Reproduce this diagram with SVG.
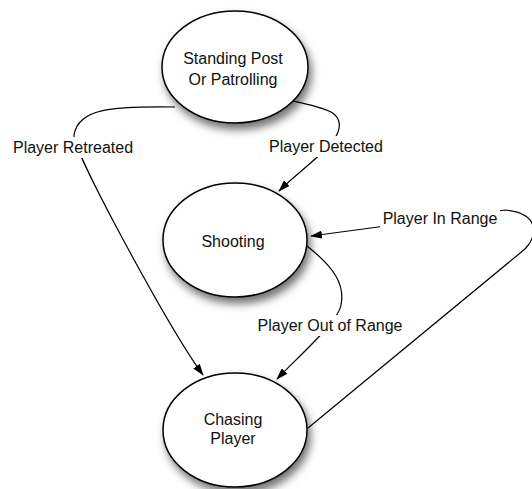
<svg xmlns="http://www.w3.org/2000/svg" width="532" height="489" viewBox="0 0 532 489">
<style>
.node{fill:#fff;stroke:#000;stroke-width:1.5;filter:url(#sh)}
.lbl{font-family:"Liberation Sans",Arial,sans-serif;font-size:16px;fill:#111;text-anchor:middle}
.edge{fill:none;stroke:#000;stroke-width:1.2}
.arr{marker-end:url(#ah)}
.bg{fill:#fff}
</style>
<defs>
<filter id="sh" x="-20%" y="-20%" width="150%" height="150%">
<feDropShadow dx="3" dy="6" stdDeviation="4" flood-color="#000" flood-opacity="0.55"/>
</filter>
<marker id="ah" viewBox="0 0 12 8" refX="11" refY="4" markerWidth="12" markerHeight="8" markerUnits="userSpaceOnUse" orient="auto">
<path d="M0,0 L12,4 L0,8 Z" fill="#000"/>
</marker>
</defs>
<g id="connectors">
<path class="edge arr" d="M175,107 C110,106 78,109 74,135 C72,150 170,330 203,375"/>
<path class="edge arr" d="M293,101 C325,108 345,112 338,132 C333,148 300,170 279,191"/>
<path class="edge arr" d="M308,428 L525,249 C538,236 540,213 505,210 L311,236"/>
<path class="edge arr" d="M307,246 C335,268 345,285 341,305 C338,322 300,355 277,379"/>
</g>
<g id="labels">
<rect class="bg" x="10" y="137" width="126" height="21"/>
<text class="lbl" x="73" y="153">Player Retreated</text>
<rect class="bg" x="266" y="136" width="120" height="21"/>
<text class="lbl" x="326" y="152">Player Detected</text>
<rect class="bg" x="380" y="208" width="120" height="21"/>
<text class="lbl" x="440" y="224">Player In Range</text>
<rect class="bg" x="254" y="315" width="152" height="21"/>
<text class="lbl" x="330" y="331">Player Out of Range</text>
</g>
<g id="node-standing">
<ellipse class="node" cx="235" cy="67" rx="73" ry="56"/>
<text class="lbl" x="233" y="64">Standing Post</text>
<text class="lbl" x="233" y="85">Or Patrolling</text>
</g>
<g id="node-shooting">
<ellipse class="node" cx="235" cy="240" rx="72" ry="57"/>
<text class="lbl" x="233" y="247">Shooting</text>
</g>
<g id="node-chasing">
<ellipse class="node" cx="235" cy="430" rx="72" ry="57"/>
<text class="lbl" x="233" y="425">Chasing</text>
<text class="lbl" x="233" y="444">Player</text>
</g>
</svg>
